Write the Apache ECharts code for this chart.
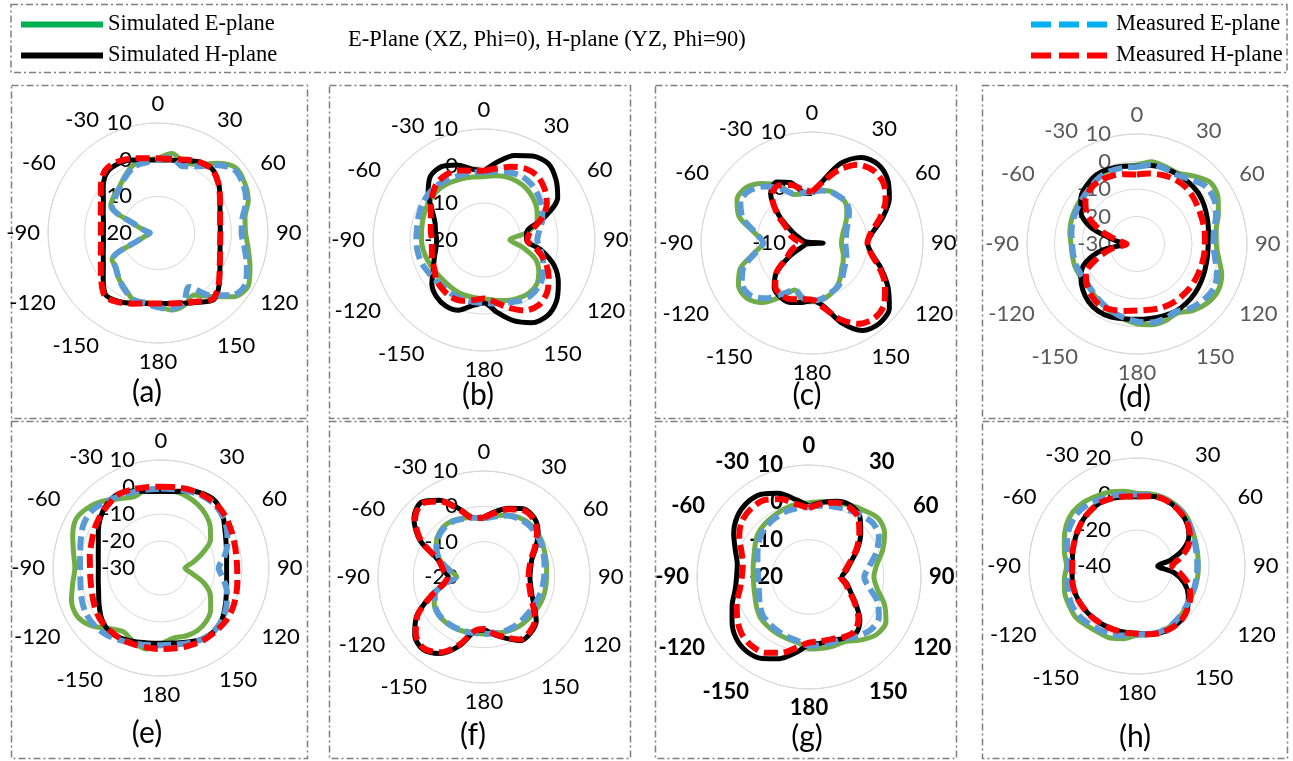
<!DOCTYPE html>
<html>
<head>
<meta charset="utf-8">
<script src="https://cdn.jsdelivr.net/npm/echarts@6/dist/echarts.min.js"></script>
<style>
  html, body { margin: 0; padding: 0; background: #ffffff; }
  #chart { width: 1293px; height: 761px; }
</style>
</head>
<body>
<div id="chart"></div>
<script>
// Sample angles (degrees, clockwise from boresight); each curve is closed back at 360.
const angleDeg = [0, 10, 20, 30, 40, 50, 60, 70, 80, 90, 100, 110, 120, 130, 140, 150, 160, 170,
                  180, 190, 200, 210, 220, 230, 240, 250, 260, 270, 280, 290, 300, 310, 320, 330, 340, 350];

// Radial scale (dB) of each sub-plot (a)..(h)
const radiusMin  = [-20, -20, -10, -30, -30, -20, -20, -40];
const radiusMax  = [10, 10, 10, 10, 10, 10, 10, 20];
const radiusStep = [10, 10, 10, 10, 10, 10, 10, 20];
const panelTags  = ['(a)', '(b)', '(c)', '(d)', '(e)', '(f)', '(g)', '(h)'];
const angleStep  = 30;

const seriesNames = ['Simulated E-plane', 'Simulated H-plane', 'Measured E-plane', 'Measured H-plane'];
const headerText = 'E-Plane (XZ, Phi=0), H-plane (YZ, Phi=90)';

// ---- (a) ----
const simE_a  = [0.3, 2.0, 0.6, 1.5, 4.8, 7.7, 7.3, 6.2, 4.1, 3.9, 5.0, 6.7, 8.5, 7.0, 2.6, -0.5, 1.0, 1.3, 0.0, -0.8, -0.5, -2.3, -3.5, -5.1, -5.5, -14.8, -17.0, -17.8, -16.4, -13.2, -5.1, -4.3, -3.6, -2.0, -0.3, 0.0];
const simH_a  = [0.0, 0.2, 1.0, 2.4, 2.9, 1.5, -0.5, -2.0, -2.8, -3.0, -2.8, -2.0, -0.5, 1.8, 3.7, 1.8, 0.4, -0.5, -0.8, -0.5, 0.4, 1.5, 2.1, -0.5, -2.8, -4.1, -4.9, -5.1, -4.9, -4.1, -2.8, -0.5, 1.6, 1.8, 1.2, 0.2];
const measE_a = [0.0, 1.0, -0.6, 1.0, 4.2, 7.0, 6.8, 5.6, 3.4, 2.8, 4.0, 5.8, 7.6, 6.4, 2.2, -3.0, 0.3, 1.0, 0.3, -0.5, -0.6, -2.0, -3.5, -5.0, -5.8, -14.5, -17.0, -17.8, -16.5, -13.5, -5.5, -4.8, -3.8, -2.3, -0.8, -0.5];
const measH_a = [0.4, 0.5, 1.3, 2.4, 2.8, 1.4, -0.5, -2.0, -2.8, -3.0, -2.8, -2.0, -0.6, 1.6, 3.4, 1.6, 0.3, -0.5, -0.8, -0.5, 0.5, 1.8, 2.5, 0.2, -2.0, -3.4, -4.2, -4.4, -4.2, -3.4, -2.0, 0.3, 2.4, 2.4, 1.6, 0.7];

// ---- (b) ----
const simE_b  = [-2.9, -2.4, -1.9, -1.8, -2.0, -2.6, -3.5, -4.7, -8.3, -13.0, -9.6, -5.3, -2.9, -1.4, -1.2, -1.8, -2.6, -3.5, -4.1, -4.2, -4.2, -4.3, -4.5, -4.5, -4.2, -3.8, -3.4, -3.1, -2.9, -2.5, -2.1, -1.8, -1.7, -2.0, -2.4, -2.7];
const simH_b  = [-1.3, 1.5, 4.3, 6.2, 7.0, 5.4, 3.0, -2.9, -8.3, -8.5, -4.3, 0.2, 3.2, 5.6, 6.7, 5.8, 3.2, -0.2, -3.0, -2.0, 0.2, 0.6, 0.0, -1.6, -4.2, -5.7, -6.8, -7.2, -6.7, -5.9, -3.8, -0.3, 2.5, 2.9, 1.6, -0.5];
const measE_b = [-1.6, -1.2, -0.5, 0.0, -0.2, -1.0, -2.0, -3.2, -4.8, -5.6, -4.5, -3.0, -1.6, -0.6, -0.4, -1.0, -2.0, -2.6, -3.0, -3.0, -3.0, -3.0, -3.2, -3.0, -2.6, -2.0, -1.8, -1.7, -1.6, -1.2, -0.7, -0.5, -0.6, -1.0, -1.4, -1.5];
const measH_b = [-1.3, -0.4, 1.1, 2.3, 2.5, 1.4, -0.4, -3.6, -7.3, -8.3, -5.5, -2.3, 0.2, 2.2, 3.0, 2.0, -0.5, -3.0, -4.2, -3.5, -2.5, -2.2, -2.6, -3.2, -4.5, -5.0, -5.7, -5.9, -5.4, -4.7, -3.4, -1.7, -0.1, 0.4, 0.0, -1.0];

// ---- (c) ----
const simE_c  = [-0.8, -0.4, -0.1, -0.2, -0.6, -1.8, -3.0, -4.0, -4.5, -4.7, -4.5, -4.0, -3.5, -3.0, -2.0, -1.0, -0.2, 0.4, 0.6, 0.4, -1.0, 1.2, 4.0, 5.4, 5.3, 3.8, 0.6, -1.2, 0.5, 4.0, 5.6, 5.5, 4.0, 2.0, -0.7, -1.0];
const simH_c  = [-1.1, 1.4, 5.3, 7.8, 8.5, 7.8, 6.1, 3.6, 1.1, 0.0, 0.9, 3.2, 5.8, 8.2, 8.9, 8.2, 5.2, 1.5, 0.4, 0.9, 1.4, 1.3, 0.6, -1.6, -5.5, -8.3, -9.0, -12.0, -9.0, -7.8, -5.8, -2.2, 1.6, 2.7, 1.6, -0.7];
const measE_c = [-0.8, -0.4, -0.2, -0.3, -0.4, -1.3, -2.5, -3.4, -3.8, -4.0, -3.8, -3.4, -3.0, -2.5, -1.6, -0.8, -0.4, 0.2, 0.4, 0.0, -1.0, 0.6, 3.0, 4.6, 4.6, 3.2, 0.4, -1.2, 0.3, 3.3, 4.9, 4.7, 3.3, 1.3, -0.5, -0.8];
const measH_c = [-0.8, 1.2, 4.0, 6.3, 7.1, 6.8, 5.3, 3.0, 0.8, 0.0, 0.8, 2.9, 5.2, 7.0, 7.6, 6.8, 4.6, 1.8, 0.2, 0.3, 0.8, 0.9, 0.3, -1.6, -4.8, -6.0, -7.2, -8.0, -7.2, -5.8, -4.8, -1.8, 1.3, 2.0, 1.1, -0.2];

// ---- (d) ----
const simE_d  = [-1.3, 0.4, 0.0, -0.2, 2.2, 4.8, 4.0, 1.5, -0.8, -1.2, 0.2, 2.8, 4.0, 3.4, 1.6, -1.0, -0.2, -0.2, -1.0, -2.2, -3.4, -4.6, -5.8, -6.5, -6.3, -6.0, -6.1, -6.0, -5.2, -4.6, -4.2, -3.8, -3.0, -1.6, -1.3, -1.4];
const simH_d  = [-1.6, -1.0, -0.7, -0.7, -0.8, -1.0, -1.8, -2.8, -3.6, -4.1, -4.0, -3.6, -3.0, -2.4, -2.0, -1.8, -2.2, -2.5, -2.6, -2.4, -1.8, -1.8, -2.6, -4.2, -6.4, -10.0, -17.2, -25.0, -21.4, -12.0, -6.4, -3.4, -1.8, -0.8, -0.9, -1.3];
const measE_d = [-2.0, -0.6, -0.8, -1.0, 0.6, 2.6, 2.4, 0.6, -1.6, -2.2, -1.2, 1.0, 2.2, 1.6, 0.4, -1.6, -1.0, -1.0, -1.8, -2.8, -3.8, -5.0, -6.0, -6.8, -6.8, -6.6, -6.5, -6.4, -5.8, -5.2, -4.8, -4.2, -3.4, -2.2, -1.8, -1.8];
const measH_d = [-4.7, -4.0, -3.3, -2.8, -2.8, -3.4, -4.2, -4.7, -5.0, -5.3, -5.3, -5.3, -5.2, -5.0, -5.0, -5.0, -5.2, -5.7, -5.8, -5.3, -4.5, -3.9, -4.8, -6.4, -8.5, -14.5, -20.8, -26.2, -23.2, -16.0, -9.2, -5.5, -3.8, -3.3, -3.6, -4.2];

// ---- (e) ----
const simE_e  = [-1.0, -1.2, -1.8, -2.8, -4.2, -6.2, -8.8, -13.6, -18.0, -21.1, -18.3, -12.8, -8.8, -6.0, -4.1, -3.2, -3.2, -3.6, -1.9, 0.5, -0.7, -2.6, -0.7, 3.4, 5.8, 5.3, 3.2, 1.9, 2.9, 4.8, 6.3, 5.0, 2.5, -0.3, -1.8, -0.4];
const simH_e  = [-1.7, -1.2, 0.3, 1.7, 1.8, -0.1, -2.6, -4.3, -5.3, -5.7, -5.3, -4.2, -2.5, -0.5, 0.6, 0.4, -0.8, -1.8, -2.1, -1.8, -1.0, 0.0, 0.2, -1.2, -3.5, -5.4, -6.4, -6.8, -6.4, -5.3, -3.2, -0.8, 1.0, 1.6, 0.3, -1.2];
const measE_e = [-0.6, -0.4, 0.2, 0.8, 0.8, -0.2, -1.8, -3.8, -6.2, -8.6, -6.5, -4.0, -2.0, -0.4, 0.5, 0.5, -0.4, -1.2, -1.4, -1.0, -0.3, 0.8, 2.0, 2.6, 2.4, 1.4, 0.3, 0.0, 0.4, 1.6, 3.0, 3.2, 2.0, 0.8, -0.1, -0.5];
const measH_e = [0.1, 0.4, 0.9, 1.2, 1.2, 0.7, -0.3, -1.2, -1.7, -1.8, -1.3, -0.4, 0.5, 1.0, 1.0, 1.0, 0.6, 0.2, 0.0, -0.1, 0.0, 0.1, -0.1, -0.5, -1.6, -2.8, -3.5, -3.7, -3.2, -2.6, -1.5, -0.4, 0.5, 1.5, 1.0, 0.4];

// ---- (f) ----
const simE_f  = [-3.4, -2.4, -1.4, -0.5, -0.1, -0.3, -0.9, -1.6, -2.0, -2.3, -2.3, -2.3, -2.5, -2.7, -2.8, -3.0, -3.4, -3.8, -3.9, -3.9, -3.6, -3.3, -3.2, -3.2, -3.8, -5.0, -8.5, -12.3, -10.5, -7.0, -4.3, -2.7, -1.8, -1.7, -2.3, -2.9];
const simH_f  = [-3.0, -1.2, 0.7, 2.3, 2.0, 0.0, -3.0, -5.6, -6.6, -7.0, -6.6, -5.6, -3.6, -0.7, 0.6, 0.8, -1.5, -3.4, -5.0, -4.2, 0.8, 5.0, 6.8, 5.6, 2.0, -3.8, -8.3, -9.9, -8.3, -6.3, 1.0, 5.9, 7.6, 5.1, 0.6, -2.9];
const measE_f = [-3.4, -2.6, -1.5, -0.8, -0.6, -0.8, -1.3, -2.0, -2.6, -3.0, -3.2, -3.5, -3.7, -3.8, -3.7, -3.6, -3.6, -3.8, -3.9, -3.9, -3.7, -3.5, -3.4, -3.4, -4.0, -5.2, -8.5, -12.0, -10.3, -7.0, -4.5, -3.0, -2.2, -2.0, -2.5, -3.0];
const measH_f = [-3.2, -1.5, 0.4, 1.9, 1.6, -0.4, -3.4, -5.9, -7.0, -7.4, -7.0, -6.0, -4.0, -1.1, 0.2, 0.4, -1.8, -3.7, -5.3, -4.5, 0.4, 4.6, 6.4, 5.2, 1.7, -4.0, -8.3, -9.7, -8.3, -6.4, 0.6, 5.5, 7.2, 4.7, 0.3, -3.1];

// ---- (g) ----
const simE_g  = [-0.1, 0.5, 1.1, 2.2, 3.2, 4.3, 3.4, 1.0, -1.6, -2.6, -1.4, 1.5, 3.8, 3.8, 2.0, -0.1, -0.4, -0.6, -0.8, -2.2, -2.5, -2.6, -2.8, -3.0, -3.8, -4.6, -5.0, -5.1, -4.8, -4.3, -3.3, -2.1, -1.5, -1.1, -0.6, -0.2];
const simH_g  = [-1.0, 0.3, 1.6, 2.2, 1.2, -1.9, -5.0, -8.0, -9.8, -11.2, -9.7, -8.1, -5.5, -2.2, -0.4, -1.1, -1.9, -2.0, -1.8, 0.6, 3.3, 5.2, 6.0, 5.5, 3.8, 1.9, 0.1, -0.6, -0.5, 1.0, 3.3, 5.1, 5.9, 5.6, 3.9, 1.1];
const measE_g = [-1.2, -0.6, 0.0, 0.8, 1.6, 2.4, 1.6, -0.8, -3.6, -5.2, -3.6, -0.4, 1.6, 1.8, 0.6, -1.0, -1.4, -1.5, -1.6, -2.6, -3.0, -3.3, -3.6, -3.9, -4.8, -5.8, -6.3, -6.4, -6.0, -5.3, -4.2, -3.0, -2.3, -1.8, -1.4, -1.3];
const measH_g = [-1.5, 0.0, 1.2, 1.6, 0.6, -2.4, -5.4, -8.3, -10.2, -11.5, -10.1, -8.4, -5.8, -2.7, -1.0, -1.4, -2.3, -2.5, -2.4, -0.8, 1.6, 3.4, 4.0, 3.6, 2.2, 0.6, -1.2, -2.0, -2.0, -0.8, 1.6, 3.4, 4.0, 3.8, 2.2, -0.2];

// ---- (h) ----
const simE_h  = [0.4, 0.8, 0.9, 0.4, -0.4, -2.0, -3.8, -5.0, -5.7, -5.9, -5.8, -5.6, -5.2, -4.4, -3.0, -1.8, -1.0, -1.4, -1.6, 1.0, 2.6, 2.6, 3.3, 4.4, 3.6, 2.8, 1.0, -0.9, 0.9, 3.0, 5.4, 6.6, 6.2, 4.9, 3.8, 2.2];
const simH_h  = [-1.5, -0.6, 0.0, -0.6, -1.8, -3.6, -6.7, -12.5, -21.1, -28.5, -19.3, -12.0, -7.1, -3.4, -1.2, -0.6, -0.6, -1.6, -2.6, -2.6, -2.4, -2.3, -2.2, -2.2, -2.3, -2.6, -3.4, -4.1, -3.6, -2.8, -1.8, -0.6, 0.2, 0.7, 0.0, -0.9];
const measE_h = [-0.4, 0.0, 0.3, -0.3, -1.0, -2.5, -4.3, -5.6, -6.3, -6.5, -6.4, -6.0, -5.5, -4.6, -3.2, -2.0, -1.3, -1.6, -2.0, -0.8, 0.6, 1.0, 1.8, 2.5, 2.2, 0.8, -0.8, -1.9, -0.8, 1.3, 3.2, 4.2, 3.8, 2.5, 1.5, 0.4];
const measH_h = [-1.4, -0.6, 0.0, -0.6, -1.8, -3.4, -6.0, -10.0, -16.0, -20.5, -15.5, -9.5, -5.8, -3.2, -1.2, -0.6, -0.6, -1.5, -2.4, -2.4, -2.4, -2.3, -2.2, -2.2, -2.3, -2.6, -3.4, -4.0, -3.5, -2.8, -1.8, -0.6, 0.2, 0.7, 0.0, -0.8];

const panelCurves = [
  [simE_a, simH_a, measE_a, measH_a],
  [simE_b, simH_b, measE_b, measH_b],
  [simE_c, simH_c, measE_c, measH_c],
  [simE_d, simH_d, measE_d, measH_d],
  [simE_e, simH_e, measE_e, measH_e],
  [simE_f, simH_f, measE_f, measH_f],
  [simE_g, simH_g, measE_g, measH_g],
  [simE_h, simH_h, measE_h, measH_h]
];

// ---- Layout: polar centre/radius, caption position, frame box ----
const layout = [
  { cx: 158,  cy: 233, r: 110, tx: 147,  ty: 392, box: [11, 85, 296, 333] },
  { cx: 484,  cy: 240, r: 111, tx: 478,  ty: 395, box: [329, 85, 301, 333] },
  { cx: 812,  cy: 243, r: 111, tx: 807,  ty: 395, box: [655, 85, 301, 333] },
  { cx: 1137, cy: 244, r: 110, tx: 1135, ty: 397, box: [982, 85, 305, 333] },
  { cx: 161,  cy: 568, r: 108, tx: 147,  ty: 733, box: [11, 421, 296, 337] },
  { cx: 484,  cy: 577, r: 106, tx: 473,  ty: 735, box: [329, 421, 301, 337] },
  { cx: 809,  cy: 577, r: 112, tx: 807,  ty: 737, box: [655, 421, 301, 337] },
  { cx: 1137, cy: 566, r: 108, tx: 1135, ty: 737, box: [982, 421, 305, 337] }
];
const labelColor  = ['#000', '#000', '#000', '#595959', '#000', '#000', '#000', '#000'];
const labelWeight = ['normal', 'normal', 'normal', 'normal', 'normal', 'normal', 'bold', 'normal'];

const lineLook = [
  { color: '#70AD47', width: 5, type: 'solid' },
  { color: '#000000', width: 5, type: 'solid' },
  { color: '#5B9BD5', width: 6, type: [14, 6] },
  { color: '#FF0000', width: 6, type: [14, 6] }
];
// drawing order: green, black, blue, red (red on top)
const drawOrder = [0, 1, 2, 3];

const chart = echarts.init(document.getElementById('chart'), null, { renderer: 'canvas' });

const polar = layout.map(p => ({ center: [p.cx, p.cy], radius: p.r }));

const angleAxis = layout.map((p, i) => ({
  polarIndex: i,
  type: 'value',
  min: 0, max: 360, interval: angleStep,
  startAngle: 90, clockwise: true,
  axisLine: { show: true, lineStyle: { color: '#d9d9d9', width: 1 } },
  axisTick: { show: false },
  splitLine: { show: false },
  axisLabel: {
    margin: 8,
    color: labelColor[i],
    fontFamily: 'Lato',
    fontSize: 22,
    fontWeight: labelWeight[i],
    formatter: v => (v >= 360 ? '' : String(v > 180 ? v - 360 : v))
  }
}));

const radiusAxis = layout.map((p, i) => ({
  polarIndex: i,
  type: 'value',
  min: radiusMin[i], max: radiusMax[i], interval: radiusStep[i],
  axisLine: { show: false },
  axisTick: { show: false },
  splitLine: { show: true, lineStyle: { color: '#d9d9d9', width: 1 } },
  axisLabel: {
    margin: 26,
    color: labelColor[i],
    fontFamily: 'Lato',
    fontSize: 22,
    fontWeight: labelWeight[i]
  }
}));

const series = [];
panelCurves.forEach((curves, i) => {
  drawOrder.forEach(k => {
    const vals = curves[k];
    const look = lineLook[k];
    const data = angleDeg.map((a, j) => [vals[j], a]);
    data.push([vals[0], 360]);
    series.push({
      name: seriesNames[k],
      type: 'line',
      coordinateSystem: 'polar',
      polarIndex: i,
      data: data,
      smooth: 0.3,
      symbol: 'none',
      clip: false,
      silent: true,
      animation: false,
      lineStyle: { color: look.color, width: look.width, type: look.type, cap: 'butt', join: 'round' },
      itemStyle: { color: look.color }
    });
  });
});

const legendBase = {
  orient: 'horizontal',
  itemWidth: 82,
  itemHeight: 20,
  padding: 0,
  selectedMode: false,
  itemStyle: { opacity: 0 },
  lineStyle: { width: 6 },
  textStyle: { fontFamily: 'Liberation Serif', fontSize: 22.5, color: '#000' }
};
const legend = [
  Object.assign({}, legendBase, { left: 18, top: 13,
    data: [{ name: seriesNames[0], lineStyle: { color: '#00B050', type: 'solid' } }] }),
  Object.assign({}, legendBase, { left: 18, top: 44,
    data: [{ name: seriesNames[1], lineStyle: { color: '#000000', type: 'solid' } }] }),
  Object.assign({}, legendBase, { left: 1028, top: 13, itemWidth: 80,
    data: [{ name: seriesNames[2], lineStyle: { color: '#00B0F0', type: [20, 8] } }] }),
  Object.assign({}, legendBase, { left: 1028, top: 44, itemWidth: 80,
    data: [{ name: seriesNames[3], lineStyle: { color: '#FF0000', type: [20, 8] } }] })
];

// Dash-dot frames and sub-plot captions
const frameStyle = { fill: 'none', stroke: '#7f7f7f', lineWidth: 1.5, lineDash: [7, 3, 2, 3] };
const graphic = [
  { type: 'rect', silent: true, shape: { x: 11, y: 4.5, width: 1276, height: 68 }, style: frameStyle }
];
layout.forEach((p, i) => {
  graphic.push({ type: 'rect', silent: true,
    shape: { x: p.box[0] + 0.5, y: p.box[1] + 0.5, width: p.box[2], height: p.box[3] },
    style: frameStyle });
  graphic.push({ type: 'text', silent: true, x: p.tx, y: p.ty,
    style: { text: panelTags[i], fill: '#000', font: '30px Lato', align: 'center', verticalAlign: 'middle' } });
});

chart.setOption({
  backgroundColor: '#ffffff',
  animation: false,
  title: {
    text: headerText,
    left: 348, top: 29, padding: 0,
    textStyle: { fontFamily: 'Liberation Serif', fontSize: 22.5, fontWeight: 'normal', color: '#000' }
  },
  legend: legend,
  polar: polar,
  angleAxis: angleAxis,
  radiusAxis: radiusAxis,
  series: series,
  graphic: graphic
});
</script>
</body>
</html>
